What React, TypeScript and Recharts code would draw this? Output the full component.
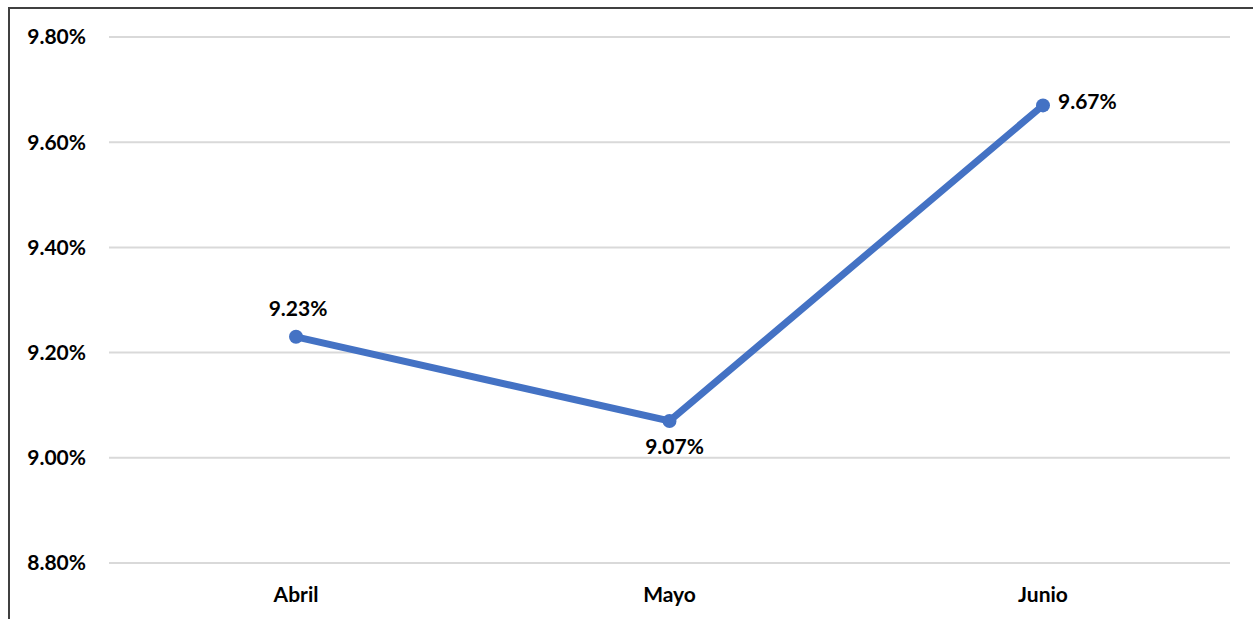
import { CartesianGrid, LabelList, Line, LineChart, XAxis, YAxis } from 'recharts'

const months = ['Abril', 'Mayo', 'Junio']
const rates = [9.23, 9.07, 9.67]
const yTicks = [8.8, 9.0, 9.2, 9.4, 9.6, 9.8]

const data = months.map((name, i) => ({ name, rate: rates[i] }))

const font = 'Lato, "Open Sans", sans-serif'

const pointLabel = (props: any) => {
  const { x, y, value, index } = props
  const text = `${Number(value).toFixed(2)}%`
  let tx = x
  let ty = y
  let anchor: 'start' | 'middle' = 'middle'
  if (index === 0) {
    tx = x + 2
    ty = y - 29
  } else if (index === 1) {
    tx = x + 5
    ty = y + 25
  } else {
    tx = x + 15
    ty = y - 5
    anchor = 'start'
  }
  return (
    <text
      x={tx}
      y={ty}
      textAnchor={anchor}
      dominantBaseline='central'
      fill='#000'
      fontSize={21}
      fontWeight={700}
      fontFamily={font}
    >
      {text}
    </text>
  )
}

export default function App() {
  return (
    <div style={{ position: 'fixed', inset: 0, overflow: 'hidden', background: '#fff' }}>
      <div
        style={{
          position: 'absolute',
          left: 8,
          top: 7,
          width: 1400,
          height: 800,
          border: '2px solid #404040',
        }}
      />
      <div style={{ position: 'absolute', left: 0, top: 0 }}>
        <LineChart
          width={1253}
          height={619}
          data={data}
          margin={{ top: 37, right: 23, bottom: 0, left: 0 }}
        >
          <CartesianGrid vertical={false} stroke='#d9d9d9' strokeWidth={2} />
          <XAxis
            dataKey='name'
            height={56}
            padding={{ left: 187, right: 187 }}
            axisLine={false}
            tickLine={false}
            tickMargin={18}
            tick={{ fill: '#000', fontSize: 21, fontWeight: 700, fontFamily: font }}
          />
          <YAxis
            width={109}
            domain={[8.8, 9.8]}
            ticks={yTicks}
            axisLine={false}
            tickLine={false}
            tickMargin={17}
            tickFormatter={(v) => `${Number(v).toFixed(2)}%`}
            tick={{ fill: '#000', fontSize: 21, fontWeight: 700, fontFamily: font }}
          />
          <Line
            type='linear'
            dataKey='rate'
            stroke='#4472C4'
            strokeWidth={7}
            dot={{ r: 7, fill: '#4472C4', stroke: '#4472C4', strokeWidth: 0 }}
            isAnimationActive={false}
          >
            <LabelList dataKey='rate' content={pointLabel} />
          </Line>
        </LineChart>
      </div>
    </div>
  )
}
